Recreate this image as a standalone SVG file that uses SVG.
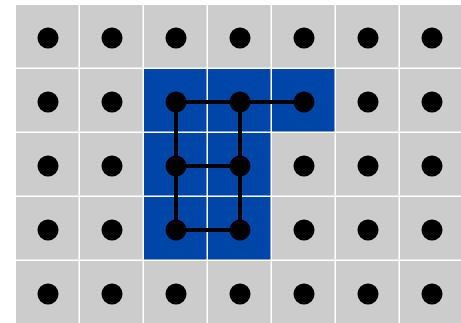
<svg xmlns="http://www.w3.org/2000/svg" width="461" height="323" viewBox="0 0 461 323">
<style>
.c{fill:#cccccc}
.b{fill:#0045a8}
.d{fill:#000}
.e{stroke:#000;stroke-width:4;fill:none}
</style>
<rect width="461" height="323" fill="#fff"/>
<g id="cells">
<rect class="c" x="16" y="5" width="62.5" height="62.5"/><rect class="c" x="80" y="5" width="62.5" height="62.5"/><rect class="c" x="144" y="5" width="62.5" height="62.5"/><rect class="c" x="208" y="5" width="62.5" height="62.5"/><rect class="c" x="272" y="5" width="62.5" height="62.5"/><rect class="c" x="336" y="5" width="62.5" height="62.5"/><rect class="c" x="400" y="5" width="62.5" height="62.5"/>
<rect class="c" x="16" y="69" width="62.5" height="62.5"/><rect class="c" x="80" y="69" width="62.5" height="62.5"/><rect class="b" x="144" y="69" width="62.5" height="62.5"/><rect class="b" x="208" y="69" width="62.5" height="62.5"/><rect class="b" x="272" y="69" width="62.5" height="62.5"/><rect class="c" x="336" y="69" width="62.5" height="62.5"/><rect class="c" x="400" y="69" width="62.5" height="62.5"/>
<rect class="c" x="16" y="133" width="62.5" height="62.5"/><rect class="c" x="80" y="133" width="62.5" height="62.5"/><rect class="b" x="144" y="133" width="62.5" height="62.5"/><rect class="b" x="208" y="133" width="62.5" height="62.5"/><rect class="c" x="272" y="133" width="62.5" height="62.5"/><rect class="c" x="336" y="133" width="62.5" height="62.5"/><rect class="c" x="400" y="133" width="62.5" height="62.5"/>
<rect class="c" x="16" y="197" width="62.5" height="62.5"/><rect class="c" x="80" y="197" width="62.5" height="62.5"/><rect class="b" x="144" y="197" width="62.5" height="62.5"/><rect class="b" x="208" y="197" width="62.5" height="62.5"/><rect class="c" x="272" y="197" width="62.5" height="62.5"/><rect class="c" x="336" y="197" width="62.5" height="62.5"/><rect class="c" x="400" y="197" width="62.5" height="62.5"/>
<rect class="c" x="16" y="261" width="62.5" height="62.5"/><rect class="c" x="80" y="261" width="62.5" height="62.5"/><rect class="c" x="144" y="261" width="62.5" height="62.5"/><rect class="c" x="208" y="261" width="62.5" height="62.5"/><rect class="c" x="272" y="261" width="62.5" height="62.5"/><rect class="c" x="336" y="261" width="62.5" height="62.5"/><rect class="c" x="400" y="261" width="62.5" height="62.5"/>
</g>
<g id="connectors">
<path class="e" d="M176 102H304M176 102V230M240 102V230M176 166H240M176 230H240"/>
</g>
<g id="nodes">
<circle class="d" cx="48" cy="38" r="10.5"/><circle class="d" cx="112" cy="38" r="10.5"/><circle class="d" cx="176" cy="38" r="10.5"/><circle class="d" cx="240" cy="38" r="10.5"/><circle class="d" cx="304" cy="38" r="10.5"/><circle class="d" cx="368" cy="38" r="10.5"/><circle class="d" cx="432" cy="38" r="10.5"/>
<circle class="d" cx="48" cy="102" r="10.5"/><circle class="d" cx="112" cy="102" r="10.5"/><circle class="d" cx="176" cy="102" r="10.5"/><circle class="d" cx="240" cy="102" r="10.5"/><circle class="d" cx="304" cy="102" r="10.5"/><circle class="d" cx="368" cy="102" r="10.5"/><circle class="d" cx="432" cy="102" r="10.5"/>
<circle class="d" cx="48" cy="166" r="10.5"/><circle class="d" cx="112" cy="166" r="10.5"/><circle class="d" cx="176" cy="166" r="10.5"/><circle class="d" cx="240" cy="166" r="10.5"/><circle class="d" cx="304" cy="166" r="10.5"/><circle class="d" cx="368" cy="166" r="10.5"/><circle class="d" cx="432" cy="166" r="10.5"/>
<circle class="d" cx="48" cy="230" r="10.5"/><circle class="d" cx="112" cy="230" r="10.5"/><circle class="d" cx="176" cy="230" r="10.5"/><circle class="d" cx="240" cy="230" r="10.5"/><circle class="d" cx="304" cy="230" r="10.5"/><circle class="d" cx="368" cy="230" r="10.5"/><circle class="d" cx="432" cy="230" r="10.5"/>
<circle class="d" cx="48" cy="294" r="10.5"/><circle class="d" cx="112" cy="294" r="10.5"/><circle class="d" cx="176" cy="294" r="10.5"/><circle class="d" cx="240" cy="294" r="10.5"/><circle class="d" cx="304" cy="294" r="10.5"/><circle class="d" cx="368" cy="294" r="10.5"/><circle class="d" cx="432" cy="294" r="10.5"/>
</g>
</svg>
